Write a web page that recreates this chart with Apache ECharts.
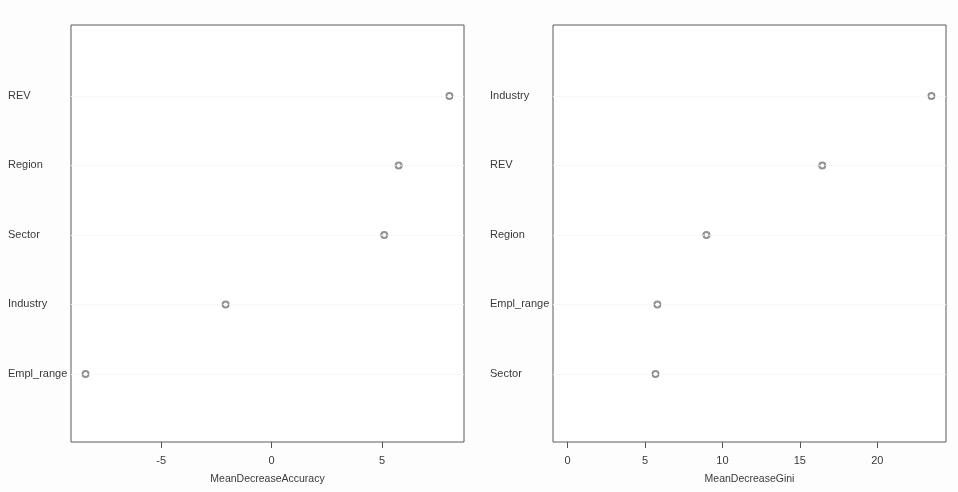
<!DOCTYPE html>
<html><head><meta charset="utf-8">
<script src="https://cdn.jsdelivr.net/npm/echarts@6/dist/echarts.min.js"></script>
<style>html,body{margin:0;padding:0;background:#fdfdfd}#c{width:958px;height:492px}</style>
</head><body><div id="c"></div>
<script>
// Left panel: MeanDecreaseAccuracy (bottom to top order)
const accCategories = ['Empl_range', 'Industry', 'Sector', 'Region', 'REV'];
const accValues = [-8.42, -2.08, 5.1, 5.75, 8.05];
const accTicks = [-5, 0, 5];
// Right panel: MeanDecreaseGini (bottom to top order)
const giniCategories = ['Sector', 'Empl_range', 'Region', 'REV', 'Industry'];
const giniValues = [5.68, 5.8, 8.97, 16.45, 23.5];
const giniTicks = [0, 5, 10, 15, 20];

const font = 'Liberation Sans, Arial, sans-serif';
const textColor = '#3a3a3a';

function pad(min, max) { const d = (max - min) * 0.04; return [min - d, max + d]; }
const accRange = pad(Math.min(...accValues), Math.max(...accValues));
const giniRange = pad(0, Math.max(...giniValues));

function xAxis(gridIndex, range, ticks, name) {
  return {
    type: 'value', gridIndex, min: range[0], max: range[1],
    name, nameLocation: 'middle', nameGap: 32,
    nameTextStyle: { fontFamily: font, fontSize: 10.5, color: textColor },
    axisLine: { show: false },
    axisTick: { show: true, length: 6, customValues: ticks, lineStyle: { color: '#555' } },
    axisLabel: { customValues: ticks, fontFamily: font, fontSize: 11, color: textColor, margin: 13 },
    splitLine: { show: false }
  };
}
function yAxis(gridIndex, cats) {
  const vals = cats.map((c, i) => i + 1);
  return {
    type: 'value', gridIndex, min: 0.02, max: cats.length + 1.02,
    axisLine: { show: false }, axisTick: { show: false }, splitLine: { show: false },
    axisLabel: {
      customValues: vals, align: 'left', margin: 63,
      fontFamily: font, fontSize: 11, color: textColor,
      formatter: v => cats[Math.round(v) - 1] || ''
    }
  };
}
function series(idx, cats, values) {
  return {
    type: 'scatter', xAxisIndex: idx, yAxisIndex: idx,
    data: values.map((v, i) => [v, i + 1]),
    symbol: 'emptyCircle', symbolSize: 6,
    itemStyle: { color: '#777', borderColor: '#777', borderWidth: 0.9 },
    markLine: {
      silent: true, symbol: 'none', label: { show: false },
      lineStyle: { type: 'dotted', color: '#f0f0f0', width: 1 },
      data: cats.map((c, i) => ({ yAxis: i + 1 }))
    },
    z: 3
  };
}

const chart = echarts.init(document.getElementById('c'), null, { renderer: 'canvas' });
chart.setOption({
  backgroundColor: '#fdfdfd',
  animation: false,
  grid: [
    { left: 71, top: 25, width: 393, height: 417, show: true, borderColor: '#5a5a5a', borderWidth: 1, backgroundColor: '#fff' },
    { left: 553, top: 25, width: 393, height: 417, show: true, borderColor: '#5a5a5a', borderWidth: 1, backgroundColor: '#fff' }
  ],
  xAxis: [
    xAxis(0, accRange, accTicks, 'MeanDecreaseAccuracy'),
    xAxis(1, giniRange, giniTicks, 'MeanDecreaseGini')
  ],
  yAxis: [yAxis(0, accCategories), yAxis(1, giniCategories)],
  series: [series(0, accCategories, accValues), series(1, giniCategories, giniValues)]
});
</script></body></html>
